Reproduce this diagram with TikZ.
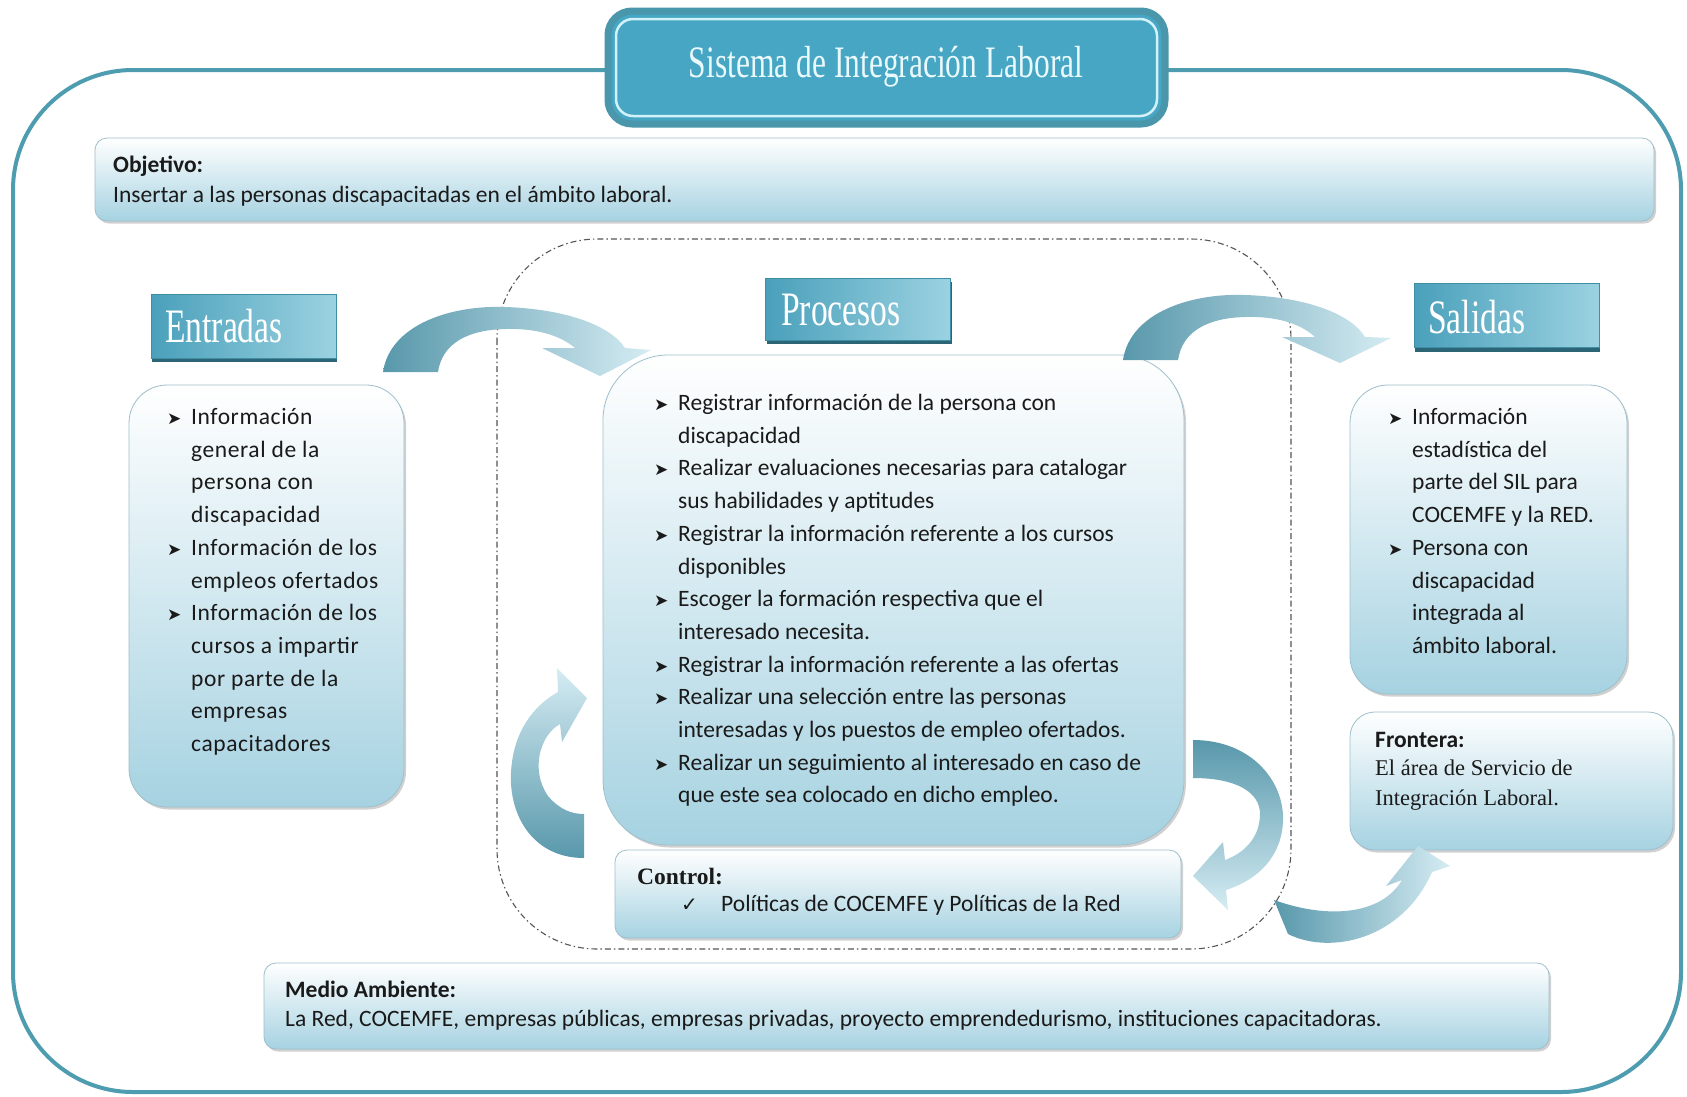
\documentclass[tikz,border=0pt]{standalone}
\usepackage{fontspec}
\setmainfont{Carlito}
\newfontfamily\serifface{Liberation Serif}
\newfontfamily\symface{DejaVu Sans}
\newfontfamily\decoface{Liberation Serif}
\usetikzlibrary{shadows}

\definecolor{framecol}{HTML}{4E9CB0}
\definecolor{titlefill}{HTML}{46A6C4}
\definecolor{titleborder}{HTML}{4A96AA}
\definecolor{titlering}{HTML}{D2F1F8}
\definecolor{titletext}{HTML}{EAF9FC}
\definecolor{headleft}{HTML}{4AA0BB}
\definecolor{headright}{HTML}{9BD2E1}
\definecolor{headedge}{HTML}{3F8EA3}
\definecolor{headshadow}{HTML}{2C6676}
\definecolor{boxborder}{HTML}{9DBFCB}
\definecolor{boxblue}{HTML}{A6D2E1}
\definecolor{arrowdark}{HTML}{5898AB}
\definecolor{arrowlight}{HTML}{D5ECF3}
\definecolor{textcol}{HTML}{1A1A1A}
\definecolor{dashcol}{HTML}{555555}

% bullet and hanging indent for the lists
\newcommand\bul{\makebox[24pt][l]{\symface\fontsize{17}{17}\selectfont\raisebox{0pt}{➤}}}
\newcommand\ind{\hspace*{24pt}}
\newcommand\condensed[1]{\scalebox{0.7}[1]{#1}}
% one text node per printed line: name, x, first baseline, line step, lines
\newcommand\textrows[5]{%
  \foreach \rowtext [count=\i] in {#5}{%
    \node[bodytxt] (#1-\i) at (#2,{#3+(\i-1)*#4}) {\rowtext};}}

\begin{document}
\begin{tikzpicture}[x=1pt,y=-1pt,
  frameline/.style={draw=framecol, line width=4pt, rounded corners=120pt},
  procline/.style={draw=dashcol, line width=1.1pt, rounded corners=100pt,
    dash pattern=on 6pt off 3pt on 1.5pt off 3pt},
  contentbox/.style={draw=boxborder, line width=0.8pt, top color=white,
    bottom color=boxblue, inner sep=0pt,
    drop shadow={shadow xshift=2pt, shadow yshift=-2.5pt, opacity=0.3, fill=black!60}},
  headbox/.style={left color=headleft, right color=headright, draw=headedge,
    line width=0.6pt, inner sep=0pt, minimum width=185pt, minimum height=64pt,
    drop shadow={shadow xshift=1pt, shadow yshift=-4pt, fill=headshadow, opacity=1}},
  headtxt/.style={text=white, inner sep=0pt, anchor=west,
    font=\decoface\fontsize{48}{48}\selectfont},
  bodytxt/.style={anchor=base west, inner sep=0pt, text=textcol,
    font=\fontsize{23.5}{28}\selectfont},
  labeltxt/.style={bodytxt, font=\bfseries\fontsize{23.5}{28}\selectfont},
  seriftxt/.style={bodytxt, font=\serifface\fontsize{22.5}{28}\selectfont},
  arrowshape/.style={draw=none}
]
\useasboundingbox (0,0) rectangle (1687,1096);
\fill[white] (0,0) rectangle (1687,1096);

% outer frame of the system and the dash-dotted process boundary
\draw[frameline] (13,70) rectangle (1681,1092);
\draw[procline] (497,239) rectangle (1291,949);

% title plate
\node[fill=titlefill, draw=titleborder, line width=7pt, rounded corners=24pt,
  minimum width=557pt, minimum height=113pt] (title) at (886.5,67.5) {};
\node[draw=titlering, line width=2.5pt, rounded corners=17pt,
  minimum width=541pt, minimum height=97pt] (titlering) at (title.center) {};
\node[text=titletext, inner sep=0pt, font=\decoface\fontsize{45}{45}\selectfont]
  (titletext) at (886,67) {\condensed{Sistema de Integración Laboral}};

% information boxes
\node[contentbox, rounded corners=12pt, minimum width=1559pt, minimum height=83pt]
  (objbox) at (874.5,179.5) {};
\node[contentbox, rounded corners=38pt, minimum width=275pt, minimum height=422pt]
  (entbox) at (266.5,596) {};
\node[contentbox, rounded corners=65pt, minimum width=581pt, minimum height=490pt]
  (procbox) at (893.5,600) {};
\node[contentbox, rounded corners=12pt, minimum width=566pt, minimum height=88pt]
  (ctlbox) at (898,894) {};
\node[contentbox, rounded corners=38pt, minimum width=277pt, minimum height=309pt]
  (salbox) at (1488.5,539.5) {};
\node[contentbox, rounded corners=25pt, minimum width=323pt, minimum height=138pt]
  (frobox) at (1511.5,781) {};
\node[contentbox, rounded corners=12pt, minimum width=1285pt, minimum height=86pt]
  (medbox) at (906.5,1006) {};

% section headers
\node[headbox] (enthead) at (243.5,326) {};
\node[headtxt] (entheadtxt) at (165,326) {\condensed{Entradas}};
\node[headbox, minimum height=62pt] (prochead) at (858,309) {};
\node[headtxt] (procheadtxt) at (781,310) {\condensed{Procesos}};
\node[headbox] (salhead) at (1506.5,315.5) {};
\node[headtxt] (salheadtxt) at (1428,317) {\condensed{Salidas}};

% curved flow arrows
\shade[arrowshape, left color=arrowdark, right color=arrowlight]
  (383,372) .. controls (390,325) and (450,305) .. (505,307)
  .. controls (565,309) and (610,325) .. (625,348)
  -- (651,350) -- (600,376) -- (542,348) -- (575,348)
  .. controls (560,335) and (535,328) .. (505,329)
  .. controls (465,330) and (442,345) .. (438,372) -- cycle;
\shade[arrowshape, left color=arrowdark, right color=arrowlight]
  (1123,360) .. controls (1130,313) and (1190,293) .. (1245,295)
  .. controls (1305,297) and (1350,313) .. (1365,337)
  -- (1391,338) -- (1340,363) -- (1282,337) -- (1315,337)
  .. controls (1300,323) and (1275,316) .. (1245,317)
  .. controls (1205,318) and (1182,333) .. (1178,360) -- cycle;
\shade[arrowshape, top color=arrowlight, bottom color=arrowdark]
  (584,858) .. controls (530,858) and (505,810) .. (512,762)
  .. controls (517,725) and (538,703) .. (558,692)
  -- (557,668) -- (587,698) -- (562,742) -- (560,724)
  .. controls (540,735) and (530,770) .. (548,796)
  .. controls (560,810) and (572,814) .. (584,814) -- cycle;
\shade[arrowshape, top color=arrowdark, bottom color=arrowlight]
  (1193,740) .. controls (1252,740) and (1285,782) .. (1283,822)
  .. controls (1281,858) and (1257,880) .. (1226,890)
  -- (1228,910) -- (1193,876) -- (1223,842) -- (1225,860)
  .. controls (1247,852) and (1260,835) .. (1260,814)
  .. controls (1260,792) and (1236,778) .. (1193,778) -- cycle;
\shade[arrowshape, left color=arrowdark, right color=arrowlight]
  (1274,900) -- (1288,934) .. controls (1330,955) and (1402,940) .. (1432,872)
  -- (1450,866) -- (1418,846) -- (1386,886) -- (1402,880)
  .. controls (1382,914) and (1330,920) .. (1274,900) -- cycle;

% texts
\node[labeltxt] (objlabel) at (113,172) {Objetivo:};
\node[bodytxt] (objtext) at (113,202) {Insertar a las personas discapacitadas en el ámbito laboral.};

\begin{scope}[bodytxt/.append style={font=\fontsize{23.5}{28}\selectfont\addfontfeature{LetterSpace=2.5}}]
\textrows{ent}{167}{424.5}{32.7}{{\bul Información},{\ind general de la},
  {\ind persona con},{\ind discapacidad},{\bul Información de los},
  {\ind empleos ofertados},{\bul Información de los},{\ind cursos a impartir},
  {\ind por parte de la},{\ind empresas},{\ind capacitadores}}
\end{scope}

\textrows{proc}{654}{410.5}{32.7}{{\bul Registrar información de la persona con},
  {\ind discapacidad},
  {\bul Realizar evaluaciones necesarias para catalogar},
  {\ind sus habilidades y aptitudes},
  {\bul Registrar la información referente a los cursos},
  {\ind disponibles},
  {\bul Escoger la formación respectiva que el},
  {\ind interesado necesita.},
  {\bul Registrar la información referente a las ofertas},
  {\bul Realizar una selección entre las personas},
  {\ind interesadas y los puestos de empleo ofertados.},
  {\bul Realizar un seguimiento al interesado en caso de},
  {\ind que este sea colocado en dicho empleo.}}

\textrows{sal}{1388}{424.5}{32.7}{{\bul Información},{\ind estadística del},
  {\ind parte del SIL para},{\ind COCEMFE y la RED.},{\bul Persona con},
  {\ind discapacidad},{\ind integrada al},{\ind ámbito laboral.}}

\node[bodytxt, font=\serifface\bfseries\fontsize{23.5}{28}\selectfont] (ctllabel) at (637,884) {Control:};
\node[bodytxt, font=\symface\fontsize{20}{20}\selectfont] (ctlmark) at (681,911) {✓};
\node[bodytxt] (ctltext) at (721,911) {Políticas de COCEMFE y Políticas de la Red};

\node[labeltxt] (frolabel) at (1375,747) {Frontera:};
\node[seriftxt] (frotext1) at (1375,775) {El área de Servicio de};
\node[seriftxt] (frotext2) at (1375,805) {Integración Laboral.};

\node[labeltxt] (medlabel) at (285,997) {Medio Ambiente:};
\node[bodytxt] (medtext) at (285,1026) {La Red, COCEMFE, empresas públicas, empresas privadas, proyecto emprendedurismo, instituciones capacitadoras.};
\end{tikzpicture}
\end{document}
